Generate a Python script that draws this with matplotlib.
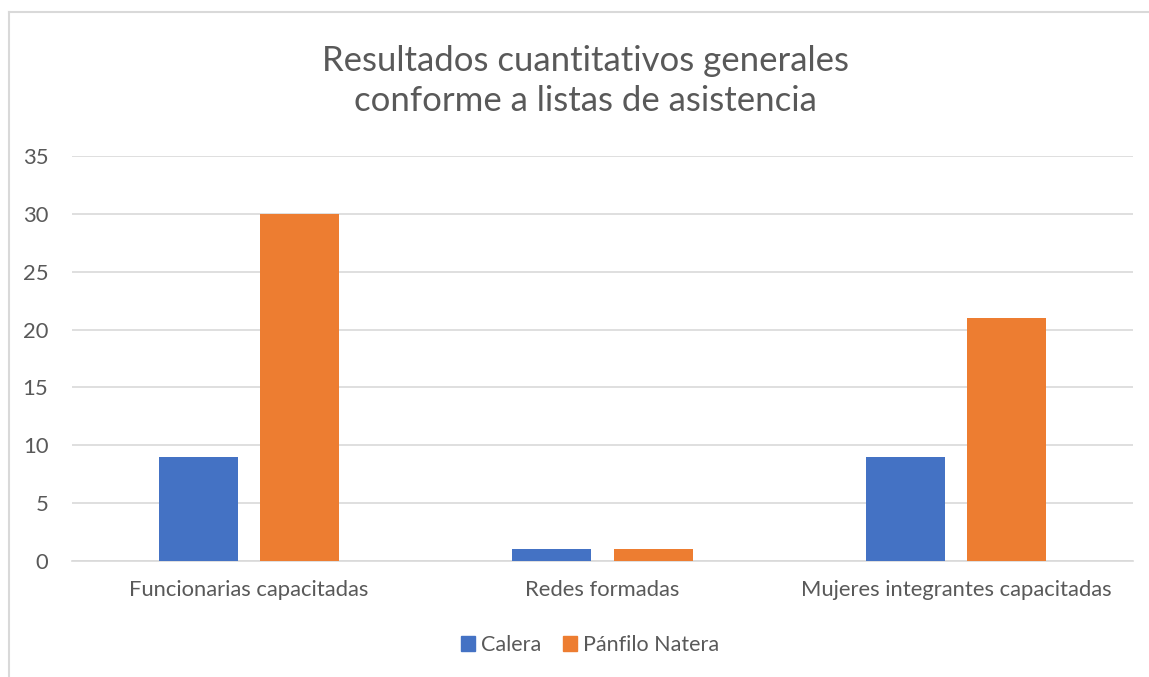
import matplotlib
matplotlib.use('Agg')
import matplotlib.pyplot as plt
import numpy as np
from matplotlib.patches import Rectangle
from matplotlib.lines import Line2D

categories = ['Funcionarias capacitadas', 'Redes formadas', 'Mujeres integrantes capacitadas']
series_names = ['Calera', 'Pánfilo Natera']
calera = [9, 1, 9]
panfilo = [30, 1, 21]
yticks = [0, 5, 10, 15, 20, 25, 30, 35]

plt.rcParams['font.family'] = ['Lato', 'DejaVu Sans']
text_color = '#595959'
grid_color = '#D9D9D9'

fig = plt.figure(figsize=(11.49, 6.77), dpi=100)
ax = fig.add_axes([72/1149, 1 - 561/677, (1133 - 72)/1149, (561 - 156)/677])

x = np.arange(len(categories))
w = 0.223
off = 0.143
ax.bar(x - off, calera, w, color='#4472C4', label=series_names[0], zorder=3)
ax.bar(x + off, panfilo, w, color='#ED7D31', label=series_names[1], zorder=3)

ax.set_xlim(-0.5, len(categories) - 0.5)
ax.set_ylim(0, 35)
ax.set_yticks(yticks)
ax.set_xticks(x)
ax.set_xticklabels(categories)
ax.yaxis.grid(True, color=grid_color, linewidth=1.2, zorder=0)
ax.tick_params(axis='both', length=0, labelsize=15.8, colors=text_color)
ax.tick_params(axis='y', pad=17)
ax.tick_params(axis='x', pad=14)
for s in ['top', 'right', 'left']:
    ax.spines[s].set_visible(False)
ax.spines['bottom'].set_color(grid_color)
ax.spines['bottom'].set_linewidth(1.2)

fig.text(585/1149, 1 - 81/677, 'Resultados cuantitativos generales\nconforme a listas de asistencia',
         ha='center', va='center', fontsize=25, color=text_color, linespacing=1.3)

handles = [Rectangle((0, 0), 1, 1, color='#4472C4'), Rectangle((0, 0), 1, 1, color='#ED7D31')]
fig.legend(handles, series_names, loc='center', bbox_to_anchor=(590/1149, 1 - 645/677),
           ncol=2, frameon=False, fontsize=15.5, handlelength=0.65, handleheight=0.65,
           handletextpad=0.3, columnspacing=1.0, labelcolor=text_color)

# outer chart border (left and top visible)
fig.add_artist(Line2D([9/1149, 9/1149], [0, 1 - 12/677], transform=fig.transFigure,
                      color='#D9D9D9', linewidth=1.5))
fig.add_artist(Line2D([9/1149, 1], [1 - 12/677, 1 - 12/677], transform=fig.transFigure,
                      color='#D9D9D9', linewidth=1.5))

fig.savefig('out.png', dpi=100)
